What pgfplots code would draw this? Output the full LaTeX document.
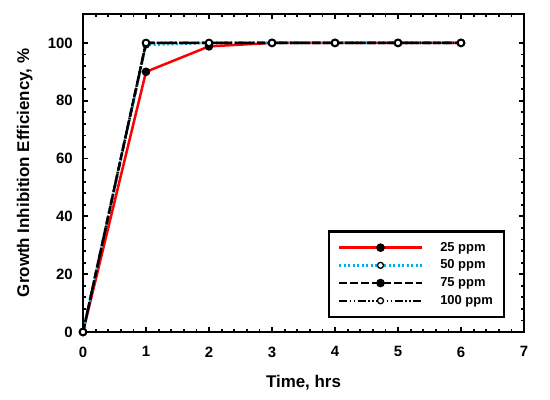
\documentclass[border=0pt]{standalone}
\usepackage{fontspec}
\setmainfont{Liberation Sans}
\usepackage{pgfplots}
\pgfplotsset{compat=1.18}
\begin{document}
\begin{tikzpicture}
\begin{axis}[
  scale only axis, width=441bp, height=318bp,
  xmin=0, xmax=7, ymin=0, ymax=110,
  xtick={0,1,...,7}, ytick={0,20,...,100},
  minor x tick num=4, minor y tick num=4,
  tick align=inside, xtick pos=both, ytick pos=both,
  major tick length=5bp, minor tick length=3bp,
  axis line style={line width=2.5bp},
  every tick/.style={black, line width=1.8bp},
  /pgf/number format/assume math mode=true,
  tick label style={font=\fontsize{15}{16}\selectfont\bfseries, inner sep=0pt},
  xticklabel style={yshift=-14.5bp},
  yticklabel style={xshift=-10bp},
  xlabel={Time, hrs},
  ylabel={Growth Inhibition Efficiency, \%},
  label style={font=\fontsize{17}{18}\selectfont\bfseries, inner sep=0pt},
  xlabel style={at={(axis description cs:0.5,0)}, anchor=base, yshift=-55bp},
  ylabel style={at={(axis description cs:-0.1224,0.5)}, anchor=base},
  legend cell align=left,
  legend style={at={(0.957,0.044)}, anchor=south east,
    draw=black, line width=2.5bp, inner xsep=9bp, inner ysep=8.5bp,
    font=\fontsize{13}{14}\selectfont\bfseries, row sep=2.7bp,
    nodes={inner ysep=1.5bp, text height=9.5bp, text depth=2.5bp}},
  legend image code/.code={%
    \draw[mark repeat=2, mark phase=2, line width=2.5bp] plot coordinates {(0bp,0bp) (41.5bp,0bp) (83bp,0bp)};
    \path (98bp,0bp);},
  mark size=3bp,
]
\addplot[red, line width=2.5bp, mark=*, mark options={solid, fill=black, draw=black}]
  coordinates {(0,0) (1,90) (2,98.8) (3,100) (4,100) (5,100) (6,100)};
\addlegendentry{25 ppm}
\addplot[cyan, line width=2.5bp, dash pattern=on 2bp off 2.5bp, mark=*, mark options={solid, fill=white, draw=black, line width=1.3bp}]
  coordinates {(0,0) (1,99.3) (2,100) (3,100) (4,100) (5,100) (6,100)};
\addlegendentry{50 ppm}
\addplot[black, line width=2.5bp, dash pattern=on 8bp off 3bp, mark=*, mark options={solid, fill=black, draw=black}]
  coordinates {(0,0) (1,100) (2,100) (3,100) (4,100) (5,100) (6,100)};
\addlegendentry{75 ppm}
\addplot[black, line width=2.5bp, dash pattern=on 8bp off 2.5bp on 1.5bp off 2.5bp on 1.5bp off 2.5bp, mark=*, mark options={solid, fill=white, draw=black, line width=1.3bp}]
  coordinates {(0,0) (1,100) (2,100) (3,100) (4,100) (5,100) (6,100)};
\addlegendentry{100 ppm}
\end{axis}
\useasboundingbox ([xshift=-83bp,yshift=-67bp]current axis.south west) rectangle ([xshift=26bp,yshift=14bp]current axis.north east);
\end{tikzpicture}
\end{document}
